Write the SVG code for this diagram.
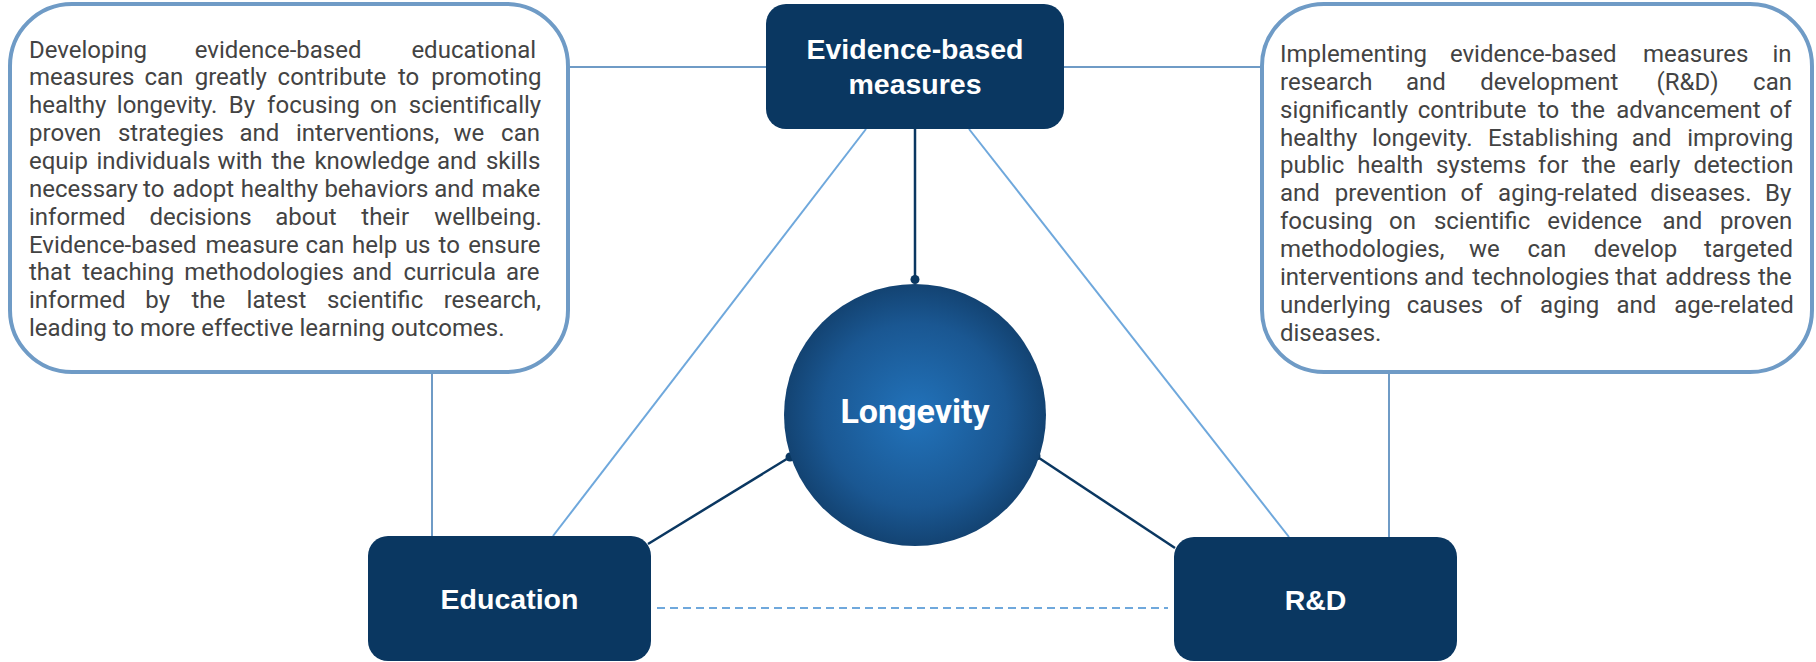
<svg xmlns="http://www.w3.org/2000/svg" width="1816" height="662" viewBox="0 0 1816 662">
<defs>
<style>
.body{font-family:Roboto,"Liberation Sans",sans-serif;font-size:24px;fill:#434343}
.panel{fill:#ffffff;stroke:#6f9bc6;stroke-width:4}
.node{fill:#0a3761}
.lbl{font-family:"Liberation Sans",Arial,sans-serif;font-weight:bold;font-size:28.5px;fill:#ffffff;text-anchor:middle}
.big{font-family:Roboto,"Liberation Sans",sans-serif;font-weight:bold;font-size:34px;fill:#ffffff;text-anchor:middle}
.lg{stroke:#6f9bc6;stroke-width:2;fill:none}
.lc{stroke:#6fa8dc;stroke-width:2;fill:none}
.dash{stroke:#6fa8dc;stroke-width:2;fill:none;stroke-dasharray:8 5}
.dk{stroke:#0a3761;stroke-width:2.5;fill:none}
.dot{fill:#0a3761}
</style>
<radialGradient id="gl" cx="50%" cy="50%" r="50%">
<stop offset="0" stop-color="#2273bb"/>
<stop offset="0.7" stop-color="#1a5792"/>
<stop offset="1" stop-color="#134372"/>
</radialGradient>
</defs>
<rect width="1816" height="662" fill="#ffffff"/>

<g id="connectors">
<line class="lg" x1="568" y1="67" x2="766" y2="67"/>
<line class="lg" x1="1064" y1="67" x2="1262" y2="67"/>
<line class="lg" x1="432" y1="374" x2="432" y2="536"/>
<line class="lg" x1="1389" y1="374" x2="1389" y2="537"/>
<line class="lc" x1="866" y1="129" x2="553" y2="536"/>
<line class="lc" x1="969" y1="129" x2="1289" y2="537"/>
<line class="dash" x1="657" y1="608" x2="1168" y2="608"/>
<line class="dk" x1="915" y1="129" x2="915" y2="279"/>
<circle class="dot" cx="915" cy="279.5" r="4.5"/>
<line class="dk" x1="648" y1="544" x2="790" y2="457"/>
<circle class="dot" cx="790" cy="457" r="4.5"/>
<line class="dk" x1="1175" y1="548" x2="1036" y2="456"/>
<circle class="dot" cx="1036" cy="456" r="4.5"/>
</g>

<g id="panel-education">
<rect class="panel" x="10" y="4" width="558" height="368" rx="62" ry="62"/>
<text class="body" y="57.5"><tspan x="29">Developing</tspan><tspan x="194.8">evidence-based</tspan><tspan x="411.4">educational</tspan></text>
<text class="body" y="85.4"><tspan x="29">measures</tspan><tspan x="144.4">can</tspan><tspan x="194.7">greatly</tspan><tspan x="277.6">contribute</tspan><tspan x="397.9">to</tspan><tspan x="431.3">promoting</tspan></text>
<text class="body" y="113.2"><tspan x="29">healthy</tspan><tspan x="116.8">longevity.</tspan><tspan x="228.7">By</tspan><tspan x="267.1">focusing</tspan><tspan x="370">on</tspan><tspan x="408.8">scientifically</tspan></text>
<text class="body" y="141.1"><tspan x="29">proven</tspan><tspan x="117.9">strategies</tspan><tspan x="239.4">and</tspan><tspan x="296">interventions,</tspan><tspan x="453.4">we</tspan><tspan x="501.1">can</tspan></text>
<text class="body" y="168.9"><tspan x="29">equip</tspan><tspan x="96.4">individuals</tspan><tspan x="217.6">with</tspan><tspan x="271.4">the</tspan><tspan x="314.4">knowledge</tspan><tspan x="437">and</tspan><tspan x="485.9">skills</tspan></text>
<text class="body" y="196.8"><tspan x="29">necessary</tspan><tspan x="143.1">to</tspan><tspan x="172.4">adopt</tspan><tspan x="240.8">healthy</tspan><tspan x="324.4">behaviors</tspan><tspan x="434.3">and</tspan><tspan x="481.5">make</tspan></text>
<text class="body" y="224.6"><tspan x="29">informed</tspan><tspan x="149.4">decisions</tspan><tspan x="275.3">about</tspan><tspan x="361.3">their</tspan><tspan x="434.2">wellbeing.</tspan></text>
<text class="body" y="252.5"><tspan x="29">Evidence-based</tspan><tspan x="205.6">measure</tspan><tspan x="305.4">can</tspan><tspan x="352">help</tspan><tspan x="404.9">us</tspan><tspan x="438.6">to</tspan><tspan x="468.3">ensure</tspan></text>
<text class="body" y="280.3"><tspan x="29">that</tspan><tspan x="82.2">teaching</tspan><tspan x="184.2">methodologies</tspan><tspan x="352.2">and</tspan><tspan x="403.4">curricula</tspan><tspan x="505.9">are</tspan></text>
<text class="body" y="308.2"><tspan x="29">informed</tspan><tspan x="145.3">by</tspan><tspan x="191.5">the</tspan><tspan x="246.6">latest</tspan><tspan x="326.9">scientific</tspan><tspan x="443.7">research,</tspan></text>
<text class="body" x="29" y="336">leading to more effective learning outcomes.</text>
</g>

<g id="panel-rd">
<rect class="panel" x="1262" y="4" width="550" height="368" rx="62" ry="62"/>
<text class="body" y="62"><tspan x="1280">Implementing</tspan><tspan x="1449.9">evidence-based</tspan><tspan x="1643">measures</tspan><tspan x="1772.4">in</tspan></text>
<text class="body" y="89.9"><tspan x="1280">research</tspan><tspan x="1406">and</tspan><tspan x="1480.2">development</tspan><tspan x="1656.6">(R&amp;D)</tspan><tspan x="1753.1">can</tspan></text>
<text class="body" y="117.7"><tspan x="1280">significantly</tspan><tspan x="1417.8">contribute</tspan><tspan x="1537.9">to</tspan><tspan x="1571.1">the</tspan><tspan x="1616.2">advancement</tspan><tspan x="1769.5">of</tspan></text>
<text class="body" y="145.6"><tspan x="1280">healthy</tspan><tspan x="1371.9">longevity.</tspan><tspan x="1487.9">Establishing</tspan><tspan x="1631.8">and</tspan><tspan x="1687.2">improving</tspan></text>
<text class="body" y="173.4"><tspan x="1280">public</tspan><tspan x="1357.2">health</tspan><tspan x="1435.9">systems</tspan><tspan x="1538.1">for</tspan><tspan x="1581.9">the</tspan><tspan x="1629.2">early</tspan><tspan x="1693.4">detection</tspan></text>
<text class="body" y="201.3"><tspan x="1280">and</tspan><tspan x="1334.8">prevention</tspan><tspan x="1460.6">of</tspan><tspan x="1498.1">aging-related</tspan><tspan x="1650.2">diseases.</tspan><tspan x="1765">By</tspan></text>
<text class="body" y="229.1"><tspan x="1280">focusing</tspan><tspan x="1389">on</tspan><tspan x="1433.9">scientific</tspan><tspan x="1547.2">evidence</tspan><tspan x="1662.4">and</tspan><tspan x="1719.9">proven</tspan></text>
<text class="body" y="257"><tspan x="1280">methodologies,</tspan><tspan x="1468.9">we</tspan><tspan x="1527.4">can</tspan><tspan x="1593.8">develop</tspan><tspan x="1703.9">targeted</tspan></text>
<text class="body" y="284.8"><tspan x="1280">interventions</tspan><tspan x="1424.2">and</tspan><tspan x="1472.2">technologies</tspan><tspan x="1615.2">that</tspan><tspan x="1665.3">address</tspan><tspan x="1758">the</tspan></text>
<text class="body" y="312.7"><tspan x="1280">underlying</tspan><tspan x="1406.7">causes</tspan><tspan x="1499.9">of</tspan><tspan x="1540.1">aging</tspan><tspan x="1616.5">and</tspan><tspan x="1674.2">age-related</tspan></text>
<text class="body" x="1280" y="340.5">diseases.</text>
</g>

<g id="node-evidence">
<rect class="node" x="766" y="4" width="298" height="125" rx="20" ry="20"/>
<text class="lbl" x="915" y="59">Evidence-based</text>
<text class="lbl" x="915" y="94">measures</text>
</g>

<g id="node-longevity">
<circle cx="915" cy="415" r="131" fill="url(#gl)"/>
<text class="big" x="915" y="423">Longevity</text>
</g>

<g id="node-education">
<rect class="node" x="368" y="536" width="283" height="125" rx="20" ry="20"/>
<text class="lbl" x="509.5" y="609">Education</text>
</g>

<g id="node-rd">
<rect class="node" x="1174" y="537" width="283" height="124" rx="20" ry="20"/>
<text class="lbl" x="1315.5" y="610">R&amp;D</text>
</g>
</svg>
